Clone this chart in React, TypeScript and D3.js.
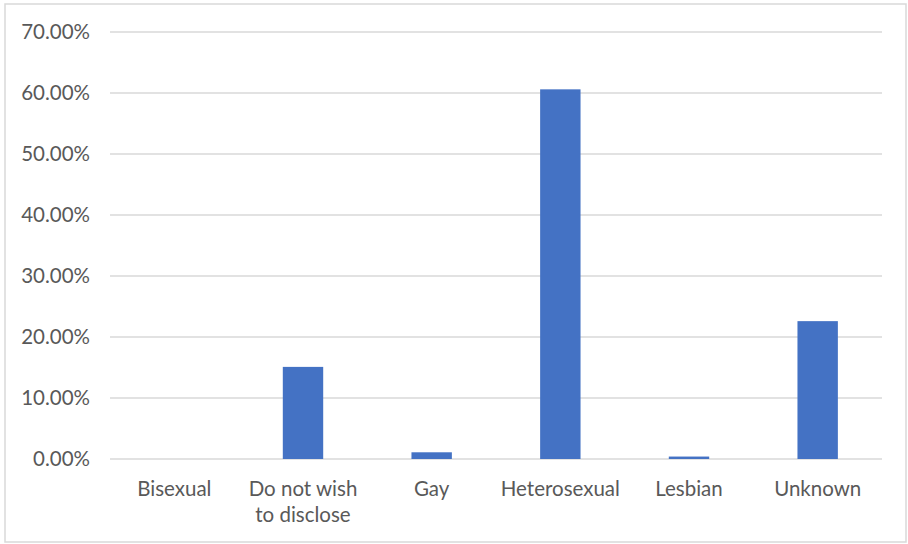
import { useRef, useEffect } from 'react';
import * as d3 from 'd3';

// Categories (multi-line labels split by '|')
const categories = ['Bisexual', 'Do not wish|to disclose', 'Gay', 'Heterosexual', 'Lesbian', 'Unknown'];
// Share of respondents (%)
const values = [0, 15.1, 1.1, 60.6, 0.4, 22.6];
const yTicks = [0, 10, 20, 30, 40, 50, 60, 70];

const width = 908;
const height = 544;

export default function App() {
  const svgRef = useRef<SVGSVGElement>(null);

  useEffect(() => {
    if (!svgRef.current) return;
    const svg = d3.select(svgRef.current);
    svg.selectAll('*').remove();

    const plot = { left: 110, right: 882, top: 32, bottom: 459 };
    const font = 'Lato, "Open Sans", sans-serif';
    const textColor = '#595959';
    const gridColor = '#d9d9d9';

    // Chart border
    svg.append('rect')
      .attr('x', 5)
      .attr('y', 4)
      .attr('width', 901)
      .attr('height', 538)
      .attr('fill', '#fff')
      .attr('stroke', gridColor)
      .attr('stroke-width', 1.5);

    const x = d3.scaleBand<string>()
      .domain(categories)
      .range([plot.left, plot.right])
      .padding(0);

    const y = d3.scaleLinear()
      .domain([0, 70])
      .range([plot.bottom, plot.top]);

    // Gridlines
    svg.append('g')
      .selectAll('line')
      .data(yTicks)
      .enter().append('line')
      .attr('x1', plot.left)
      .attr('x2', plot.right)
      .attr('y1', d => y(d))
      .attr('y2', d => y(d))
      .attr('stroke', gridColor)
      .attr('stroke-width', 1.5);

    // Y tick labels
    svg.append('g')
      .selectAll('text')
      .data(yTicks)
      .enter().append('text')
      .attr('x', 90)
      .attr('y', d => y(d))
      .attr('dy', '0.35em')
      .attr('text-anchor', 'end')
      .attr('font-family', font)
      .attr('font-size', 20.5)
      .attr('fill', textColor)
      .text(d => `${d.toFixed(2)}%`);

    // Bars
    const barW = x.bandwidth() * 0.314;
    svg.append('g')
      .selectAll('rect')
      .data(values)
      .enter().append('rect')
      .attr('x', (d, i) => (x(categories[i]) as number) + (x.bandwidth() - barW) / 2)
      .attr('y', d => y(d))
      .attr('width', barW)
      .attr('height', d => y(0) - y(d))
      .attr('fill', '#4472c4');

    // Category labels
    const labels = svg.append('g')
      .selectAll('text')
      .data(categories)
      .enter().append('text')
      .attr('x', d => (x(d) as number) + x.bandwidth() / 2)
      .attr('y', 496)
      .attr('text-anchor', 'middle')
      .attr('font-family', font)
      .attr('font-size', 20.5)
      .attr('fill', textColor);

    labels.each(function (d) {
      const t = d3.select(this);
      d.split('|').forEach((line, i) => {
        t.append('tspan')
          .attr('x', (x(d) as number) + x.bandwidth() / 2)
          .attr('dy', i === 0 ? 0 : 26)
          .text(line);
      });
    });
  }, []);

  return (
    <svg
      ref={svgRef}
      width={width}
      height={height}
      style={{ position: 'absolute', left: 0, top: 0 }}
    />
  );
}
